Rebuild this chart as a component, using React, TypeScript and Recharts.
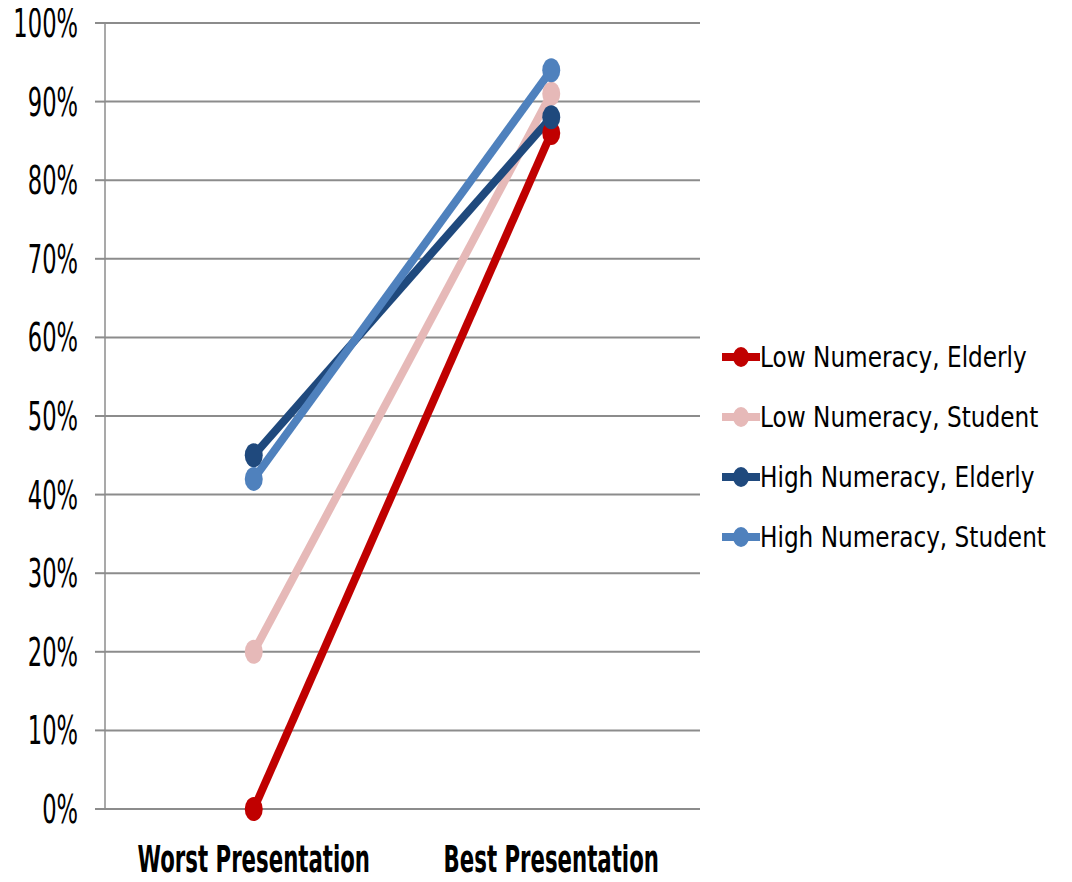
import { LineChart, Line, XAxis, YAxis, CartesianGrid, Legend } from 'recharts';

const categories = ['Worst Presentation', 'Best Presentation'];
const lowElderly = [0, 0.86];
const lowStudent = [0.2, 0.91];
const highElderly = [0.45, 0.88];
const highStudent = [0.42, 0.94];
const yTicks = [0, 0.1, 0.2, 0.3, 0.4, 0.5, 0.6, 0.7, 0.8, 0.9, 1];

const SERIES = [
    { key: 'lowElderly', name: 'Low Numeracy, Elderly', color: '#C00000', values: lowElderly },
    { key: 'lowStudent', name: 'Low Numeracy, Student', color: '#E6B9B8', values: lowStudent },
    { key: 'highElderly', name: 'High Numeracy, Elderly', color: '#1F497D', values: highElderly },
    { key: 'highStudent', name: 'High Numeracy, Student', color: '#4F81BD', values: highStudent },
];

const data = categories.map((name, i) => {
    const row: any = { name };
    SERIES.forEach(s => { row[s.key] = s.values[i]; });
    return row;
});

const YTick = ({ x, y, payload }: any) => (
    <text
        transform={`translate(${x},${y}) scale(0.58,1)`}
        textAnchor="end"
        dy="0.36em"
        fontSize={39}
        fontFamily="'DejaVu Sans', sans-serif"
        fill="#000"
    >
        {`${Math.round(payload.value * 100)}%`}
    </text>
);

const XTick = ({ x, y, payload }: any) => (
    <text
        transform={`translate(${x},${y + 63}) scale(0.56,1)`}
        textAnchor="middle"
        fontSize={38}
        fontWeight="bold"
        fontFamily="'DejaVu Sans', sans-serif"
        fill="#000"
    >
        {payload.value}
    </text>
);

const makeDot = (color: string) => (props: any) => {
    const { cx, cy, index } = props;
    return <ellipse key={index} cx={cx} cy={cy} rx={9} ry={12} fill={color} />;
};

const LegendContent = () => (
    <div>
        {SERIES.map(s => (
            <div key={s.key} style={{ display: 'flex', alignItems: 'center', height: 60, whiteSpace: 'nowrap' }}>
                <svg width={38} height={24} style={{ flexShrink: 0, display: 'block' }}>
                    <line x1={0} y1={12} x2={38} y2={12} stroke={s.color} strokeWidth={8} />
                    <ellipse cx={19} cy={12} rx={8} ry={10} fill={s.color} />
                </svg>
                <span
                    style={{
                        display: 'inline-block',
                        fontSize: 29,
                        fontFamily: "'DejaVu Sans', sans-serif",
                        transform: 'scaleX(0.8)',
                        transformOrigin: 'left center',
                        whiteSpace: 'nowrap',
                        color: '#000',
                        flexShrink: 0,
                    }}
                >
                    {s.name}
                </span>
            </div>
        ))}
    </div>
);

export default function App() {
    return (
        <LineChart width={1056} height={866} data={data} margin={{ top: 15, right: 364, bottom: 5, left: 0 }}>
            <CartesianGrid vertical={false} stroke="#8c8c8c" strokeWidth={2} />
            <XAxis
                dataKey="name"
                scale="band"
                tick={<XTick />}
                tickLine={false}
                tickSize={0}
                tickMargin={0}
                height={60}
                axisLine={{ stroke: '#8c8c8c', strokeWidth: 2 }}
                interval={0}
            />
            <YAxis
                domain={[0, 1]}
                ticks={yTicks}
                width={97}
                tick={<YTick />}
                tickSize={10}
                tickMargin={17}
                tickLine={{ stroke: '#8c8c8c', strokeWidth: 2 }}
                axisLine={{ stroke: '#8c8c8c', strokeWidth: 1.5 }}
                interval={0}
            />
            <Legend
                layout="horizontal"
                align="center"
                verticalAlign="middle"
                content={<LegendContent />}
                wrapperStyle={{ left: 714, top: 319, width: 340 }}
            />
            {SERIES.map(s => (
                <Line
                    key={s.key}
                    type="linear"
                    dataKey={s.key}
                    name={s.name}
                    stroke={s.color}
                    strokeWidth={8}
                    dot={makeDot(s.color)}
                    activeDot={false}
                    isAnimationActive={false}
                />
            ))}
        </LineChart>
    );
}
